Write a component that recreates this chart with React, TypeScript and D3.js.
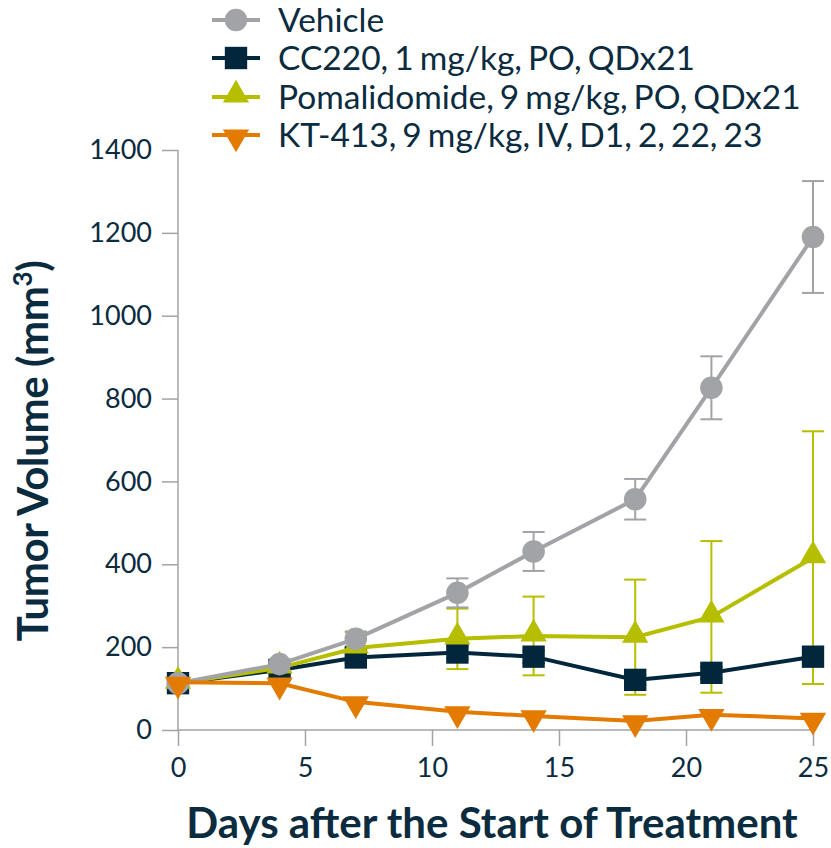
import React, { useRef, useEffect } from "react";
import * as d3 from "d3";

const days = [0, 4, 7, 11, 14, 18, 21, 25];

const vehicleMean = [113, 159, 220, 331, 431, 557, 826, 1190];
const vehicleErr = [5, 10, 18, 35, 47, 49, 76, 135];

const cc220Mean = [113, 145, 175, 187, 177, 121, 138, 177];
const cc220Err = [5, 8, 12, 15, 15, 12, 14, 18];

const pomMean = [113, 150, 198, 220, 227, 224, 273, 416];
const pomErr = [5, 10, 38, 73, 95, 139, 183, 305];

const ktMean = [115, 113, 68, 44, 34, 22, 37, 28];
const ktErr = [0, 0, 0, 0, 0, 0, 0, 0];

const yTicks = [0, 200, 400, 600, 800, 1000, 1200, 1400];
const xTicks = [0, 5, 10, 15, 20, 25];

const seriesNames = [
  "Vehicle",
  "CC220, 1 mg/kg, PO, QDx21",
  "Pomalidomide, 9 mg/kg, PO, QDx21",
  "KT-413, 9 mg/kg, IV, D1, 2, 22, 23",
];

const textColor = "#0b2b3f";
const axisColor = "#a3a3a6";

const App = () => {
  const svgRef = useRef<SVGSVGElement>(null);

  useEffect(() => {
    const w = 831;
    const h = 848;
    const svg = d3.select(svgRef.current).attr("width", w).attr("height", h);
    svg.selectAll("*").remove();

    const x = d3.scaleLinear().domain([0, 25]).range([178, 813]);
    const y = d3.scaleLinear().domain([0, 1400]).range([730, 150]);

    const series = [
      { name: seriesNames[0], mean: vehicleMean, err: vehicleErr, color: "#a2a3a7", shape: "circle" },
      { name: seriesNames[1], mean: cc220Mean, err: cc220Err, color: "#02263b", shape: "square" },
      { name: seriesNames[2], mean: pomMean, err: pomErr, color: "#b6be00", shape: "triangle" },
      { name: seriesNames[3], mean: ktMean, err: ktErr, color: "#e27b00", shape: "triangleDown" },
    ];

    // axes
    const yAxis = d3.axisLeft(y).tickValues(yTicks).tickFormat(d3.format("d")).tickSize(16).tickPadding(10);
    const gy = svg.append("g").attr("transform", `translate(${x(0)},0)`).call(yAxis);
    const xAxis = d3.axisBottom(x).tickValues(xTicks).tickFormat(d3.format("d")).tickSize(16).tickPadding(12);
    const gx = svg.append("g").attr("transform", `translate(0,${y(0)})`).call(xAxis);
    [gx, gy].forEach((g) => {
      g.select(".domain").remove();
      g.selectAll(".tick line").attr("stroke", axisColor).attr("stroke-width", 1.5);
      g.selectAll(".tick text")
        .attr("fill", textColor)
        .attr("font-family", "Lato, sans-serif")
        .attr("font-size", 27);
    });
    svg.append("line")
      .attr("x1", x(0)).attr("x2", x(0))
      .attr("y1", y(1400)).attr("y2", y(0))
      .attr("stroke", axisColor).attr("stroke-width", 1.5);
    svg.append("line")
      .attr("x1", x(0)).attr("x2", x(25))
      .attr("y1", y(0)).attr("y2", y(0))
      .attr("stroke", axisColor).attr("stroke-width", 1.5);

    // axis titles
    svg.append("text")
      .attr("x", 492).attr("y", 838)
      .attr("text-anchor", "middle")
      .attr("fill", textColor)
      .attr("font-family", "Lato, sans-serif")
      .attr("font-weight", "bold")
      .attr("font-size", 42)
      .text("Days after the Start of Treatment");

    const yTitle = svg.append("text")
      .attr("transform", `translate(48,451) rotate(-90)`)
      .attr("text-anchor", "middle")
      .attr("fill", textColor)
      .attr("font-family", "Lato, sans-serif")
      .attr("font-weight", "bold")
      .attr("font-size", 42)
      .attr("letter-spacing", -0.4);
    yTitle.append("tspan").text("Tumor Volume (mm");
    yTitle.append("tspan").attr("font-size", 26).attr("dy", -16).text("3");
    yTitle.append("tspan").attr("dy", 16).text(")");

    const symbolFor = (shape: string) => {
      if (shape === "circle") return d3.symbol(d3.symbolCircle, 400)();
      if (shape === "square") return d3.symbol(d3.symbolSquare, 500)();
      if (shape === "triangle") return d3.symbol(d3.symbolTriangle, 300)();
      return d3.symbol(d3.symbolTriangle, 300)();
    };

    const line = d3.line<number>()
      .x((_, i) => x(days[i]))
      .y((d) => y(d));

    const order = [1, 2, 0, 3];

    // error bars
    order.forEach((si) => {
      const s = series[si];
      const g = svg.append("g");
      days.forEach((d, i) => {
        if (!s.err[i]) return;
        const cx = x(d);
        const top = y(s.mean[i] + s.err[i]);
        const bot = y(Math.max(0, s.mean[i] - s.err[i]));
        g.append("line").attr("x1", cx).attr("x2", cx).attr("y1", top).attr("y2", bot)
          .attr("stroke", s.color).attr("stroke-width", 2);
        [top, bot].forEach((yy) => {
          g.append("line").attr("x1", cx - 11).attr("x2", cx + 11).attr("y1", yy).attr("y2", yy)
            .attr("stroke", s.color).attr("stroke-width", 2);
        });
      });
    });

    // lines and markers
    order.forEach((si) => {
      const s = series[si];
      const g = svg.append("g");
      g.append("path").datum(s.mean).attr("d", line)
        .attr("fill", "none").attr("stroke", s.color).attr("stroke-width", 4);
      g.selectAll("path.m")
        .data(s.mean)
        .enter()
        .append("path")
        .attr("class", "m")
        .attr("d", symbolFor(s.shape))
        .attr("fill", s.color)
        .attr("transform", (d, i) =>
          `translate(${x(days[i])},${y(d) + (s.shape === "triangle" ? -2 : s.shape === "triangleDown" ? 2 : 0)})${s.shape === "triangleDown" ? " rotate(180)" : ""}`
        );
    });

    // legend
    const legendY = [20, 58, 97, 135];
    series.forEach((s, i) => {
      const g = svg.append("g").attr("transform", `translate(0,${legendY[i]})`);
      g.append("line").attr("x1", 212).attr("x2", 260).attr("y1", 0).attr("y2", 0)
        .attr("stroke", s.color).attr("stroke-width", 4);
      g.append("path").attr("d", symbolFor(s.shape)).attr("fill", s.color)
        .attr("transform", `translate(236,${s.shape === "triangle" ? -2 : s.shape === "triangleDown" ? 2 : 0})${s.shape === "triangleDown" ? " rotate(180)" : ""}`);
      g.append("text").attr("x", 278).attr("y", 0).attr("dy", "0.35em")
        .attr("fill", textColor)
        .attr("font-family", "Lato, sans-serif")
        .attr("font-size", 33.5)
        .attr("word-spacing", -2.5)
        .text(s.name);
    });
  }, []);

  return (
    <div style={{ position: "absolute", left: 0, top: 0, background: "#fff" }}>
      <svg ref={svgRef} style={{ display: "block" }}></svg>
    </div>
  );
};

export default App;
